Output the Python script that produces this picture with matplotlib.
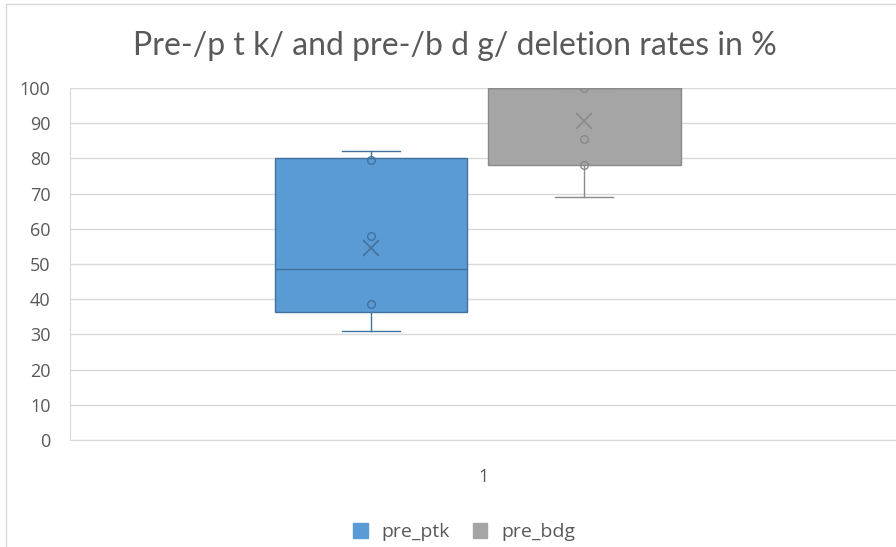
import matplotlib
matplotlib.use("Agg")
import matplotlib.pyplot as plt
from matplotlib.patches import Patch, Rectangle

# data
series = ["pre_ptk", "pre_bdg"]
whisker_low = [31, 69]
q1 = [36.5, 78]
median = [48.5, 100]
q3 = [80, 100]
whisker_high = [82, 100]
means = [54.5, 90.5]
inner_points = [[38.5, 58, 79.6], [78, 85.5, 100]]
category = "1"

fill = ["#5B9BD5", "#A5A5A5"]
edge = ["#41719C", "#8A8A8A"]
txt = "#595959"

plt.rcParams["font.family"] = ["Open Sans", "DejaVu Sans"]

fig = plt.figure(figsize=(8.96, 5.47), dpi=100)
ax = fig.add_axes([70 / 896, 1 - 440 / 547, 828 / 896, 352 / 547])

pos = [0.3635, 0.621]
stats = []
for i in range(len(series)):
    stats.append(dict(whislo=whisker_low[i], q1=q1[i], med=median[i], q3=q3[i],
                      whishi=whisker_high[i], mean=means[i], fliers=[], label=series[i]))

for i in range(len(series)):
    ax.bxp([stats[i]], positions=[pos[i]], widths=0.233, patch_artist=True,
           showmeans=True, showfliers=False,
           boxprops=dict(facecolor=fill[i], edgecolor=edge[i], linewidth=1),
           medianprops=dict(color=edge[i], linewidth=1),
           whiskerprops=dict(color=edge[i], linewidth=1),
           capprops=dict(color=edge[i], linewidth=1),
           capwidths=0.07,
           meanprops=dict(marker="x", markeredgecolor=edge[i], markersize=11, markeredgewidth=1.2),
           zorder=3)
    ax.plot([pos[i]] * len(inner_points[i]), inner_points[i], "o", mfc="none",
            mec=edge[i], ms=5.5, mew=1, zorder=4)

ax.set_xlim(0, 1)
ax.set_ylim(0, 100)
ax.set_yticks(range(0, 101, 10))
ax.set_xticks([0.5])
ax.set_xticklabels([category])
ax.yaxis.grid(True, color="#D9D9D9", linewidth=1, zorder=0)
ax.set_axisbelow(True)
for s in ["top", "right"]:
    ax.spines[s].set_visible(False)
ax.spines["bottom"].set_color("#D9D9D9")
ax.spines["left"].set_color("#D9D9D9")
ax.tick_params(axis="both", length=0, colors=txt, labelsize=13)
ax.tick_params(axis="y", pad=14)
ax.tick_params(axis="x", pad=20)

fig.text(0.508, 0.916, "Pre-/p t k/ and pre-/b d g/ deletion rates in %",
         ha="center", va="center", fontsize=23, color=txt, family="Lato")

handles = [Patch(facecolor=fill[i], edgecolor=fill[i]) for i in range(len(series))]
fig.legend(handles, series, loc="center", bbox_to_anchor=(464 / 896, 0.027), ncol=2,
           frameon=False, fontsize=14, labelcolor=txt, handlelength=0.75,
           handleheight=0.75, columnspacing=1.2, handletextpad=0.7)

fig.patches.append(Rectangle((6 / 896, -0.01), 1.0, 1 - 4 / 547 + 0.01, transform=fig.transFigure,
                             fill=False, edgecolor="#D9D9D9", linewidth=1))

fig.savefig("out.png", dpi=100)
